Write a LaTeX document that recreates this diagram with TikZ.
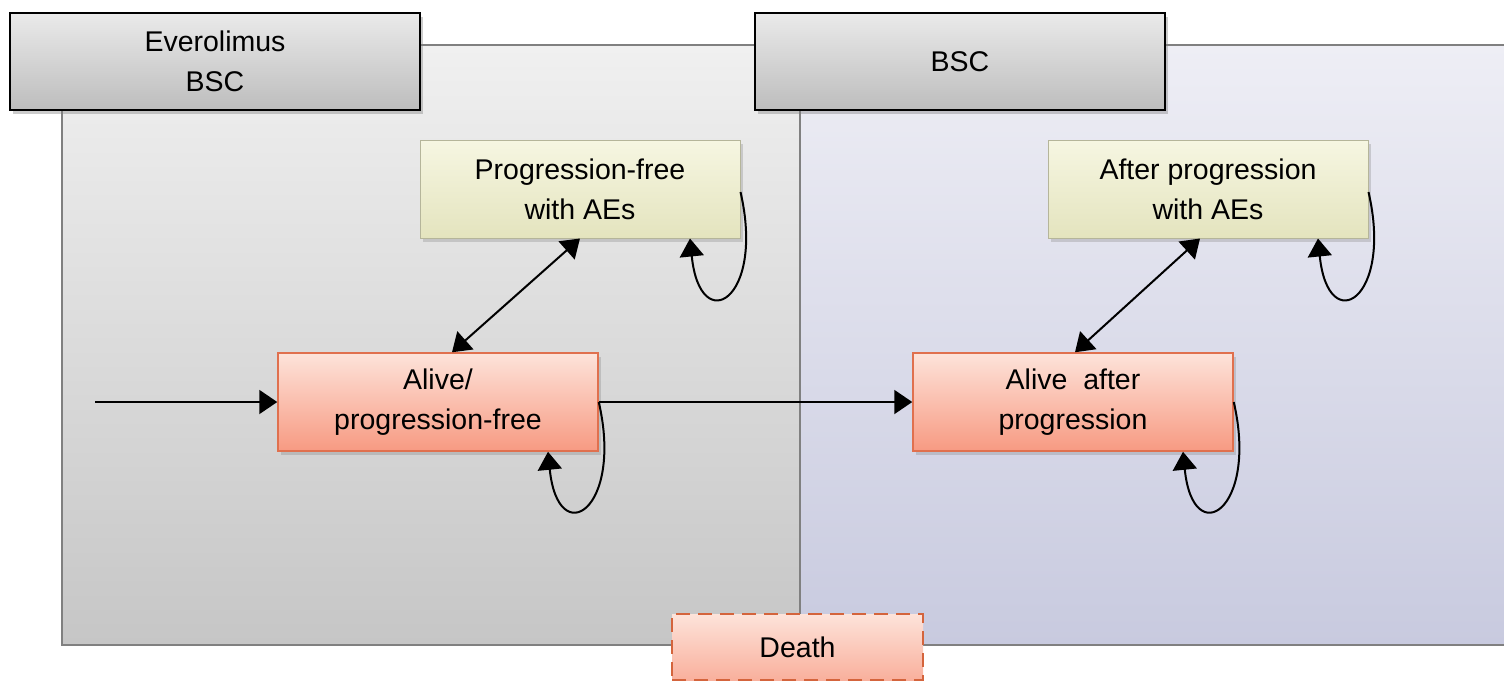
\documentclass[tikz,border=0pt]{standalone}
\usepackage{fontspec}
\setmainfont{Liberation Sans}
\usetikzlibrary{arrows.meta,shadows}
\definecolor{panelgraytop}{HTML}{F0F0F0}
\definecolor{panelgraybot}{HTML}{C6C6C6}
\definecolor{panelbluetop}{HTML}{EEEEF5}
\definecolor{panelbluebot}{HTML}{C8CADF}
\definecolor{panelline}{HTML}{808080}
\definecolor{headtop}{HTML}{EAEAEA}
\definecolor{headbot}{HTML}{BDBDBD}
\definecolor{yeltop}{HTML}{F6F6E2}
\definecolor{yelbot}{HTML}{E4E4BE}
\definecolor{yelline}{HTML}{B5B59A}
\definecolor{redtop}{HTML}{FDE3DA}
\definecolor{redbot}{HTML}{F79A82}
\definecolor{redline}{HTML}{E0704E}
\definecolor{deathline}{HTML}{D4643C}
\begin{document}
\begin{tikzpicture}[x=1pt,y=-1pt,
  every node/.style={font=\fontsize{28.5}{40}\selectfont, align=center, inner sep=0pt},
  panelbox/.style={draw=panelline, line width=1.5pt},
  headbox/.style={draw=black, line width=2pt, top color=headtop, bottom color=headbot,
     minimum width=410pt, minimum height=97pt,
     drop shadow={opacity=0.4, shadow xshift=3pt, shadow yshift=-4pt}},
  yelbox/.style={draw=yelline, line width=1pt, top color=yeltop, bottom color=yelbot,
     minimum width=320pt, minimum height=98pt,
     drop shadow={opacity=0.3, shadow xshift=3pt, shadow yshift=-4pt}},
  redbox/.style={draw=redline, line width=1.5pt, top color=redtop, bottom color=redbot,
     minimum width=320pt, minimum height=98pt,
     drop shadow={opacity=0.3, shadow xshift=3pt, shadow yshift=-4pt}},
  deathbox/.style={draw=deathline, line width=2.5pt, dash pattern=on 14pt off 8pt,
     top color=redtop, bottom color=redbot!70!redtop,
     minimum width=251pt, minimum height=66pt},
  conn/.style={line width=2pt, -{Triangle[length=18pt,width=24pt]}},
  biconn/.style={line width=2pt, {Triangle[length=18pt,width=24pt]}-{Triangle[length=18pt,width=24pt]}},
]
\useasboundingbox (0,0) rectangle (1504,681);
\fill[white] (0,0) rectangle (1504,681);
\begin{scope}
\clip (0,0) rectangle (1504,681);
% panels
\shade[top color=panelbluetop, bottom color=panelbluebot] (800,45) rectangle (1520,645);
\draw[panelbox] (1520,45) -- (800,45) -- (800,645) -- (1520,645);
\shade[top color=panelgraytop, bottom color=panelgraybot] (62,45) rectangle (800,645);
\draw[panelbox] (62,45) rectangle (800,645);
\end{scope}
% headers
\node[headbox] (h1) at (215,61.5) {Everolimus\\BSC};
\node[headbox] (h2) at (960,61.5) {BSC};
% states
\node[yelbox] (y1) at (580,189) {Progression-free\\with AEs};
\node[yelbox] (y2) at (1208,189) {After progression\\with AEs};
\node[redbox] (r1) at (438,402) {Alive/\\progression-free};
\node[redbox] (r2) at (1073,402) {Alive\ \ after\\progression};
\begin{scope}
\clip (0,0) rectangle (1504,681);
\node[deathbox] (d) at (797.5,647) {Death};
\end{scope}
\coordinate (start) at (95,402);
% connectors
\draw[conn] (start) -- (r1.west);
\draw[conn] (r1.east) -- (r2.west);
\draw[biconn] ([xshift=14pt]r1.north) -- (y1.south);
\draw[biconn] ([xshift=2pt]r2.north) -- ([xshift=-8pt]y2.south);
% self loops
\draw[conn] ([yshift=-3pt]y1.east) .. controls +(25,108) and +(10,100) .. ([xshift=110pt]y1.south);
\draw[conn] ([yshift=-3pt]y2.east) .. controls +(25,108) and +(10,100) .. ([xshift=110pt]y2.south);
\draw[conn] (r1.east) .. controls +(25,108) and +(10,100) .. ([xshift=110pt]r1.south);
\draw[conn] (r2.east) .. controls +(25,108) and +(10,100) .. ([xshift=110pt]r2.south);
\end{tikzpicture}
\end{document}
